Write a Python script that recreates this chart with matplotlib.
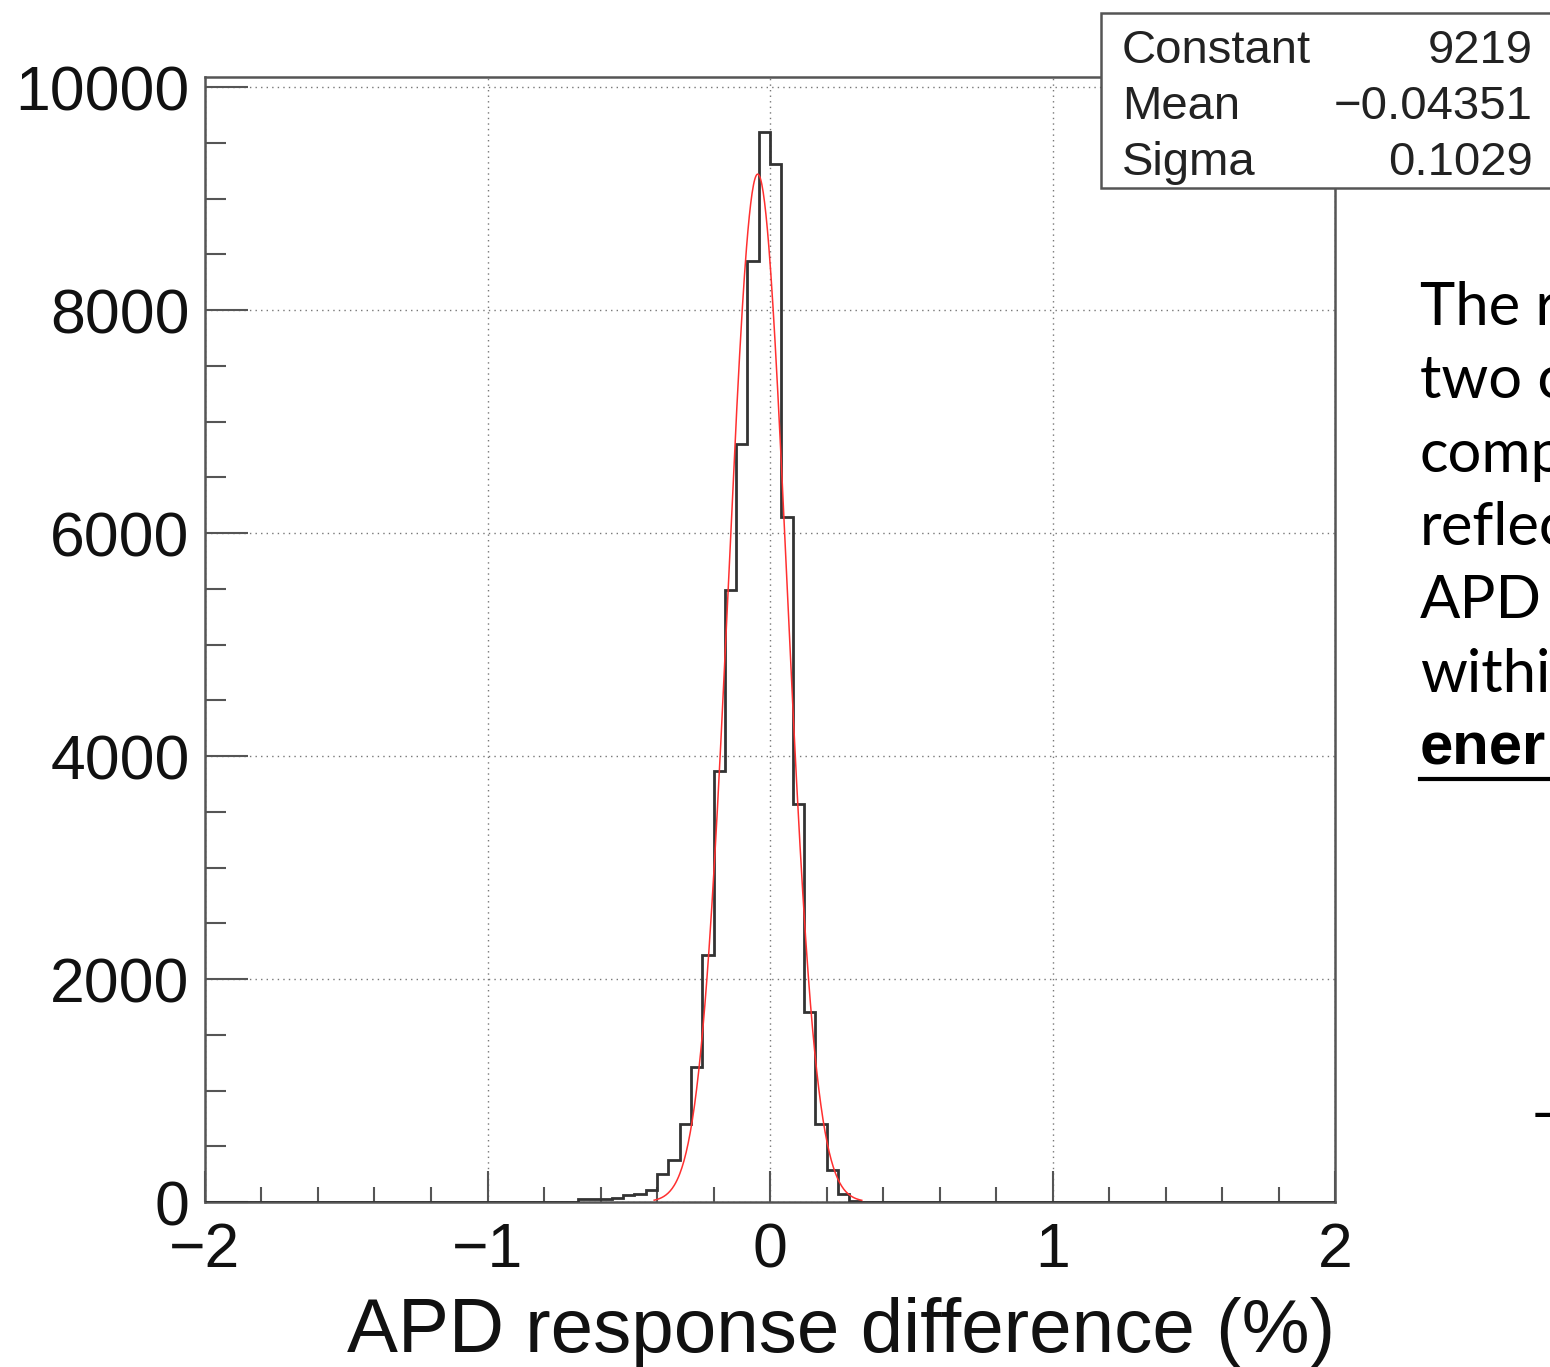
import numpy as np
import matplotlib.pyplot as plt
from matplotlib.patches import Rectangle
from matplotlib.lines import Line2D
from matplotlib.ticker import MultipleLocator

# histogram: 100 bins of 0.04 on [-2, 2], only the filled stretch is listed
first_edge = -0.68
bin_width = 0.04
counts = [30, 30, 30, 35, 60, 75, 110, 250, 380, 700, 1210, 2215, 3870,
          5490, 6800, 8440, 9600, 9310, 6140, 3570, 1700, 700, 290, 70, 10]

# gaussian fit results
fit_names = ["Constant", "Mean", "Sigma"]
fit_labels = ["9219", "\u22120.04351", "0.1029"]
fit_const, fit_mean, fit_sigma = 9219, -0.04351, 0.1029
fit_range = (-0.41, 0.325)

side_lines = ["The r", "two c", "comp", "reflec", "APD", "withi"]
side_bold = "ener"

W, H = 1550, 1367
fig = plt.figure(figsize=(W / 100, H / 100), dpi=100)
ax = fig.add_axes([205 / W, 1 - 1202 / H, 1130 / W, (1202 - 77) / H])

edges = first_edge + bin_width * np.arange(len(counts) + 1)
full_edges = np.concatenate([[-2.0], edges, [2.0]])
full_counts = np.concatenate([[0], counts, [0]])
ax.stairs(full_counts, full_edges, color="#333333", lw=2.0, zorder=3)

xf = np.linspace(fit_range[0], fit_range[1], 300)
ax.plot(xf, fit_const * np.exp(-0.5 * ((xf - fit_mean) / fit_sigma) ** 2),
        color="#ff3030", lw=1.1, zorder=4)

ax.set_xlim(-2, 2)
ax.set_ylim(0, 10090)
ax.xaxis.set_major_locator(MultipleLocator(1))
ax.xaxis.set_minor_locator(MultipleLocator(0.2))
ax.yaxis.set_major_locator(MultipleLocator(2000))
ax.yaxis.set_minor_locator(MultipleLocator(500))
ax.grid(True, which="major", ls=(0, (1, 3)), color="#777777", lw=1.0)

tfont = "Liberation Sans"
ax.tick_params(axis="y", which="major", direction="in", length=31, width=1.5,
               color="#555555", pad=11, labelsize=45)
ax.tick_params(axis="y", which="minor", direction="in", length=15, width=1.5,
               color="#555555")
ax.tick_params(axis="x", which="major", direction="in", length=22, width=1.5,
               color="#555555", pad=14, labelsize=45)
ax.tick_params(axis="x", which="minor", direction="in", length=11, width=1.5,
               color="#555555")
ax.set_xticks([-2, -1, 0, 1, 2])
ax.set_xticklabels(["\u22122", "\u22121", "0", "1", "2"])
for lab in ax.get_xticklabels() + ax.get_yticklabels():
    lab.set_fontfamily(tfont)
    lab.set_color("#111111")
for s in ax.spines.values():
    s.set_color("#555555")
    s.set_linewidth(1.8)

fig.text(1335 / W, 1 - 1352 / H, "APD response difference (%)", ha="right",
         va="baseline", fontsize=55, family=tfont, color="#111111")

# stats box
fig.add_artist(Rectangle((1101 / W, 1 - 188 / H), 460 / W, 175 / H,
                         transform=fig.transFigure, facecolor="white",
                         edgecolor="#555555", lw=1.8, zorder=10))
for i, (n, v) in enumerate(zip(fit_names, fit_labels)):
    yb = 1 - (63 + 56 * i) / H
    fig.text(1122 / W, yb, n, ha="left", va="baseline", fontsize=34,
             family=tfont, color="#222222", zorder=11)
    fig.text(1533 / W, yb, v, ha="right", va="baseline", fontsize=34,
             family=tfont, color="#222222", zorder=11)

# side text, cut at the page edge as in the slide
for i, t in enumerate(side_lines):
    fig.text(1420 / W, 1 - (325 + 73.3 * i) / H, t, ha="left", va="baseline",
             fontsize=43, family=["Lato", "DejaVu Sans"], color="black")
fig.text(1420 / W, 1 - 765 / H, side_bold, ha="left", va="baseline",
         fontsize=43, family=["Liberation Sans", "DejaVu Sans"], weight="bold",
         color="black")
fig.add_artist(Line2D([1420 / W, 1 - 0.0001], [1 - 779 / H, 1 - 779 / H],
                      transform=fig.transFigure, color="black", lw=3))
fig.text(1530 / W, 1 - 1133 / H, "\u2013", ha="left", va="baseline",
         fontsize=43, family=["Lato", "DejaVu Sans"], color="black")

fig.savefig("out.png", dpi=100)
